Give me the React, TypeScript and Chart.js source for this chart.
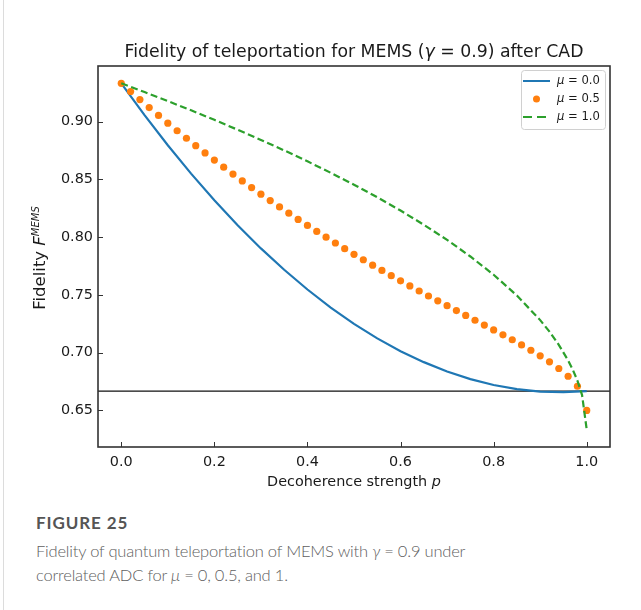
import React, { useEffect, useRef } from "react";
import { Chart, registerables } from "chart.js";

Chart.register(...registerables);

// ---------- data ----------
const pLine = [0, 0.05, 0.1, 0.15, 0.2, 0.25, 0.3, 0.35, 0.4, 0.45, 0.5, 0.55, 0.6, 0.65, 0.7, 0.75, 0.8, 0.85, 0.9, 0.95, 1.0];
const fidelityMu0 = [0.9333, 0.9058, 0.8797, 0.8551, 0.832, 0.8104, 0.7903, 0.7718, 0.7547, 0.7391, 0.725, 0.7124, 0.7013, 0.6918, 0.6837, 0.6771, 0.672, 0.6684, 0.6663, 0.6658, 0.6667];

const pDots = [0, 0.02, 0.04, 0.06, 0.08, 0.1, 0.12, 0.14, 0.16, 0.18, 0.2, 0.22, 0.24, 0.26, 0.28, 0.3, 0.32, 0.34, 0.36, 0.38, 0.4, 0.42, 0.44, 0.46, 0.48, 0.5, 0.52, 0.54, 0.56, 0.58, 0.6, 0.62, 0.64, 0.66, 0.68, 0.7, 0.72, 0.74, 0.76, 0.78, 0.8, 0.82, 0.84, 0.86, 0.88, 0.9, 0.92, 0.94, 0.96, 0.98, 1.0];
const fidelityMu05 = [0.9333, 0.9262, 0.9192, 0.9123, 0.9055, 0.8988, 0.8922, 0.8857, 0.8793, 0.873, 0.8668, 0.8607, 0.8547, 0.8488, 0.843, 0.8373, 0.8317, 0.8262, 0.8208, 0.8154, 0.8102, 0.805, 0.8, 0.795, 0.7901, 0.7852, 0.7805, 0.7758, 0.7712, 0.7667, 0.7622, 0.7578, 0.7534, 0.7491, 0.7449, 0.7407, 0.7365, 0.7323, 0.7281, 0.7239, 0.7197, 0.7155, 0.7112, 0.7067, 0.7021, 0.6973, 0.6921, 0.6863, 0.6796, 0.6709, 0.65];

const pDashed = [0, 0.05, 0.1, 0.15, 0.2, 0.25, 0.3, 0.35, 0.4, 0.45, 0.5, 0.55, 0.6, 0.65, 0.7, 0.75, 0.8, 0.85, 0.9, 0.92, 0.94, 0.96, 0.97, 0.98, 0.99, 1.0];
const fidelityMu1 = [0.9333, 0.9257, 0.9179, 0.9099, 0.9017, 0.8931, 0.8843, 0.8752, 0.8657, 0.8558, 0.8455, 0.8346, 0.8231, 0.8108, 0.7977, 0.7833, 0.7675, 0.7495, 0.7282, 0.7182, 0.7068, 0.6933, 0.6853, 0.6758, 0.6633, 0.6333];

const classicalLimit = 0.6667;
const xAxisRange = [-0.05, 1.05];
const yAxisRange = [0.6183, 0.9483];
const xTickValues = [0, 0.2, 0.4, 0.6, 0.8, 1.0];
const yTickValues = [0.65, 0.7, 0.75, 0.8, 0.85, 0.9];
const muLabels = ["0.0", "0.5", "1.0"];

const titleText = ["Fidelity of teleportation for MEMS (", "γ", " = 0.9) after CAD"];
const xTitle = ["Decoherence strength ", "p"];
const yTitle = ["Fidelity ", "F", "MEMS"];

// ---------- style ----------
const FONT = '"DejaVu Sans", sans-serif';
const BLUE = "#1f77b4";
const ORANGE = "#ff7f0e";
const GREEN = "#2ca02c";
const AXIS = "#333333";
const CW = 641;
const CH = 500;

type Piece = { t: string; font: string; dy?: number };

function drawPieces(ctx: CanvasRenderingContext2D, pieces: Piece[], cx: number, y: number, align: "center" | "left") {
  let total = 0;
  const ws = pieces.map((p) => {
    ctx.font = p.font;
    const w = ctx.measureText(p.t).width;
    total += w;
    return w;
  });
  let x = align === "center" ? cx - total / 2 : cx;
  ctx.textAlign = "left";
  pieces.forEach((p, i) => {
    ctx.font = p.font;
    ctx.fillText(p.t, x, y + (p.dy || 0));
    x += ws[i];
  });
}

export default function App() {
  const ref = useRef<HTMLCanvasElement>(null);

  useEffect(() => {
    const canvas = ref.current!;
    const decor = {
      id: "decor",
      afterDraw(chart: any) {
        const { ctx, chartArea: a, scales } = chart;
        const xs = scales.x;
        const ys = scales.y;
        ctx.save();
        // inward ticks
        ctx.strokeStyle = AXIS;
        ctx.lineWidth = 1;
        ctx.beginPath();
        xTickValues.forEach((v) => {
          const px = Math.round(xs.getPixelForValue(v)) + 0.5;
          ctx.moveTo(px, a.bottom);
          ctx.lineTo(px, a.bottom - 5);
        });
        yTickValues.forEach((v) => {
          const py = Math.round(ys.getPixelForValue(v)) + 0.5;
          ctx.moveTo(a.left, py);
          ctx.lineTo(a.left + 5, py);
        });
        ctx.stroke();
        // frame
        ctx.lineWidth = 1.6;
        ctx.strokeRect(a.left, a.top, a.right - a.left, a.bottom - a.top);

        ctx.fillStyle = "#1a1a1a";
        ctx.textBaseline = "alphabetic";
        const cx = (a.left + a.right) / 2;
        // title
        drawPieces(
          ctx,
          [
            { t: titleText[0], font: `17.3px ${FONT}` },
            { t: titleText[1], font: `italic 17.3px ${FONT}` },
            { t: titleText[2], font: `17.3px ${FONT}` },
          ],
          cx,
          57,
          "center"
        );
        // x title
        drawPieces(
          ctx,
          [
            { t: xTitle[0], font: `14.4px ${FONT}` },
            { t: xTitle[1], font: `italic 14.4px ${FONT}` },
          ],
          cx,
          486,
          "center"
        );
        // y title
        ctx.save();
        ctx.translate(45, 258);
        ctx.rotate(-Math.PI / 2);
        drawPieces(
          ctx,
          [
            { t: yTitle[0], font: `16.5px ${FONT}` },
            { t: yTitle[1], font: `italic 16.5px ${FONT}` },
            { t: yTitle[2], font: `italic 10px ${FONT}`, dy: -6 },
          ],
          0,
          0,
          "center"
        );
        ctx.restore();

        // legend
        const lx = 521, ly = 70, lw = 84, lh = 59;
        ctx.beginPath();
        ctx.roundRect(lx + 0.5, ly + 0.5, lw, lh, 3);
        ctx.fillStyle = "rgba(255,255,255,0.85)";
        ctx.fill();
        ctx.strokeStyle = "#d0d0d0";
        ctx.lineWidth = 1;
        ctx.stroke();
        const rows = [81, 99, 117];
        const hx0 = 523, hx1 = 550;
        ctx.strokeStyle = BLUE;
        ctx.lineWidth = 2;
        ctx.beginPath();
        ctx.moveTo(hx0, rows[0]);
        ctx.lineTo(hx1, rows[0]);
        ctx.stroke();
        ctx.fillStyle = ORANGE;
        ctx.beginPath();
        ctx.arc((hx0 + hx1) / 2, rows[1], 3.5, 0, Math.PI * 2);
        ctx.fill();
        ctx.strokeStyle = GREEN;
        ctx.setLineDash([9, 5]);
        ctx.beginPath();
        ctx.moveTo(hx0, rows[2]);
        ctx.lineTo(hx1 - 4, rows[2]);
        ctx.stroke();
        ctx.setLineDash([]);
        ctx.fillStyle = "#1a1a1a";
        ctx.textBaseline = "middle";
        muLabels.forEach((m, i) => {
          drawPieces(
            ctx,
            [
              { t: "μ", font: `italic 11.6px ${FONT}` },
              { t: " = " + m, font: `11.6px ${FONT}` },
            ],
            557,
            rows[i],
            "left"
          );
        });
        ctx.restore();
      },
    };

    const chart = new Chart(canvas, {
      type: "line",
      data: {
        datasets: [
          {
            label: "limit",
            data: xAxisRange.map((x) => ({ x, y: classicalLimit })),
            borderColor: "#111111",
            borderWidth: 1.2,
            pointRadius: 0,
            order: 4,
          },
          {
            label: "mu0",
            data: pLine.map((p, i) => ({ x: p, y: fidelityMu0[i] })),
            borderColor: BLUE,
            borderWidth: 2.2,
            pointRadius: 0,
            order: 3,
          },
          {
            label: "mu05",
            data: pDots.map((p, i) => ({ x: p, y: fidelityMu05[i] })),
            showLine: false,
            pointRadius: 3.6,
            pointBorderWidth: 0,
            pointBackgroundColor: ORANGE,
            borderColor: ORANGE,
            order: 2,
          },
          {
            label: "mu1",
            data: pDashed.map((p, i) => ({ x: p, y: fidelityMu1[i] })),
            borderColor: GREEN,
            borderWidth: 2.2,
            borderDash: [7, 3.5],
            pointRadius: 0,
            order: 1,
          },
        ],
      },
      options: {
        responsive: false,
        animation: false,
        devicePixelRatio: 1,
        layout: { padding: { left: 0, right: 31, top: 66, bottom: 0 } },
        plugins: { legend: { display: false }, tooltip: { enabled: false }, title: { display: false } },
        scales: {
          x: {
            type: "linear",
            min: xAxisRange[0],
            max: xAxisRange[1],
            grid: { display: false, drawTicks: false },
            border: { display: false },
            ticks: {
              padding: 7,
              color: "#1a1a1a",
              font: { family: FONT, size: 14.4 },
              maxRotation: 0,
              callback: (v: any) => Number(v).toFixed(1),
            },
            afterBuildTicks: (s: any) => {
              s.ticks = xTickValues.map((v) => ({ value: v }));
            },
            afterFit: (s: any) => {
              s.height = CH - 447;
            },
          },
          y: {
            type: "linear",
            min: yAxisRange[0],
            max: yAxisRange[1],
            grid: { display: false, drawTicks: false },
            border: { display: false },
            ticks: {
              padding: 5,
              color: "#1a1a1a",
              font: { family: FONT, size: 14.4 },
              callback: (v: any) => Number(v).toFixed(2),
            },
            afterBuildTicks: (s: any) => {
              s.ticks = yTickValues.map((v) => ({ value: v }));
            },
            afterFit: (s: any) => {
              s.width = 98;
            },
          },
        },
      },
      plugins: [decor],
    } as any);
    return () => chart.destroy();
  }, []);

  return (
    <div style={{ position: "absolute", left: 0, top: 0, width: CW, height: 610, background: "#fff", overflow: "hidden" }}>
      <div style={{ position: "absolute", left: 3, top: 0, width: 1, height: 610, background: "#dcdcdc" }} />
      <canvas ref={ref} width={CW} height={CH} style={{ position: "absolute", left: 0, top: 0, width: CW, height: CH }} />
      <div
        style={{
          position: "absolute",
          left: 36,
          top: 511,
          fontFamily: "Lato, sans-serif",
          fontWeight: 700,
          fontSize: 17,
          letterSpacing: "0.9px",
          color: "#555",
          lineHeight: "24px",
        }}
      >
        FIGURE 25
      </div>
      <div
        style={{
          position: "absolute",
          left: 36,
          top: 539,
          width: 590,
          fontFamily: "Lato, sans-serif",
          fontWeight: 300,
          fontSize: 16.5,
          letterSpacing: "-0.2px",
          color: "#606060",
          lineHeight: "24px",
        }}
      >
        Fidelity of quantum teleportation of MEMS with <i>γ</i> = 0.9 under
        <br />
        correlated ADC for <i>μ</i> = 0, 0.5, and 1.
      </div>
    </div>
  );
}
